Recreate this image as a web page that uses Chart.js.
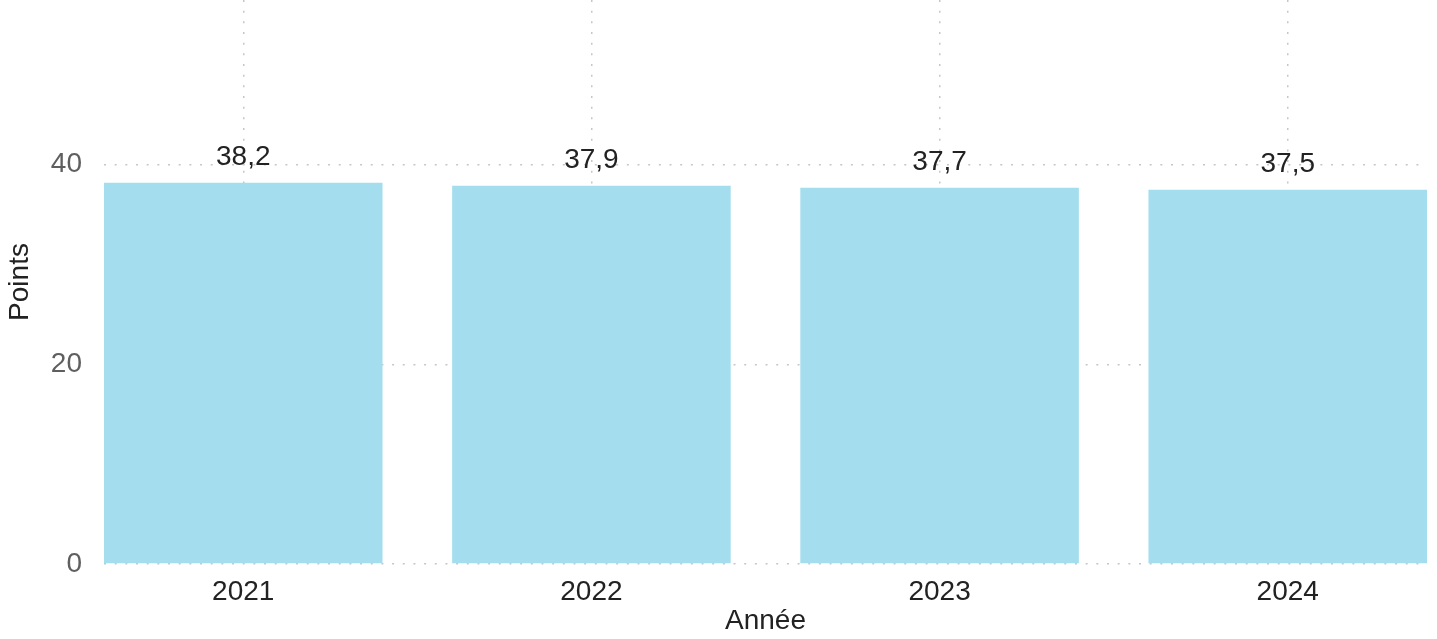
<!DOCTYPE html>
<html>
<head>
<meta charset="utf-8">
<script src="https://cdn.jsdelivr.net/npm/chart.js@4/dist/chart.umd.min.js"></script>
<style>
  html, body { margin: 0; padding: 0; background: #fff; }
  #wrap { width: 1437px; height: 639px; }
</style>
</head>
<body>
<div id="wrap"><canvas id="barChart" width="1437" height="639"></canvas></div>
<script>
// chart values
var years = ['2021', '2022', '2023', '2024'];
var points = [38.2, 37.9, 37.7, 37.5];
var yTickValues = [0, 20, 40];

var barColor = '#a3ddee';
var gridColor = '#c6c6c6';
var fontFamily = '"Liberation Sans", Arial, sans-serif';

// bars sit on a numeric x axis so the plot edges line up with the bar edges
var barData = [];
for (var i = 0; i < years.length; i++) {
    barData.push({ x: i, y: points[i] });
}

// value labels above each bar, French decimal comma
var valueLabels = {
    id: 'valueLabels',
    afterDatasetsDraw: function(chart) {
        var ctx = chart.ctx;
        var meta = chart.getDatasetMeta(0);
        ctx.save();
        ctx.font = '28px ' + fontFamily;
        ctx.fillStyle = '#222222';
        ctx.textAlign = 'center';
        ctx.textBaseline = 'alphabetic';
        meta.data.forEach(function(bar, idx) {
            var txt = points[idx].toFixed(1).replace('.', ',');
            ctx.fillText(txt, bar.x, bar.y - 18);
        });
        ctx.restore();
    }
};

var ctx = document.getElementById('barChart');
var chart = new Chart(ctx, {
    type: 'bar',
    data: {
        datasets: [{
            label: 'Points',
            data: barData,
            backgroundColor: barColor,
            borderWidth: 0,
            barPercentage: 0.8,
            categoryPercentage: 1
        }]
    },
    options: {
        responsive: false,
        animation: false,
        layout: { padding: { top: 0, right: 10, bottom: 0, left: 0 } },
        plugins: {
            legend: { display: false },
            tooltip: { enabled: false }
        },
        scales: {
            x: {
                type: 'linear',
                min: -0.4,
                max: 3.4,
                offset: false,
                afterBuildTicks: function(scale) {
                    scale.ticks = years.map(function(y, idx) { return { value: idx }; });
                },
                afterFit: function(scale) {
                    scale.height = 75;
                    scale.paddingLeft = 0;
                    scale.paddingRight = 0;
                },
                ticks: {
                    autoSkip: false,
                    maxRotation: 0,
                    padding: 11,
                    color: '#222222',
                    font: { family: fontFamily, size: 28 },
                    callback: function(value) { return years[value]; }
                },
                grid: {
                    offset: false,
                    color: gridColor,
                    lineWidth: 1.5,
                    drawTicks: false
                },
                border: { display: false, dash: [2, 8.67] },
                title: {
                    display: true,
                    text: 'Année',
                    color: '#222222',
                    font: { family: fontFamily, size: 28 },
                    padding: { top: 0, bottom: 1 }
                }
            },
            y: {
                min: 0,
                max: 56.5,
                afterBuildTicks: function(scale) {
                    scale.ticks = yTickValues.map(function(v) { return { value: v }; });
                },
                afterFit: function(scale) {
                    scale.width = 104;
                    scale.paddingTop = 0;
                    scale.paddingBottom = 0;
                },
                ticks: {
                    padding: 22,
                    color: '#5f5f5f',
                    font: { family: fontFamily, size: 28 }
                },
                grid: {
                    color: gridColor,
                    lineWidth: 1.5,
                    drawTicks: false
                },
                border: { display: false, dash: [2, 8.67] },
                title: {
                    display: true,
                    text: 'Points',
                    color: '#222222',
                    font: { family: fontFamily, size: 28 },
                    padding: { top: 3, bottom: 0 }
                }
            }
        }
    },
    plugins: [valueLabels]
});
</script>
</body>
</html>
